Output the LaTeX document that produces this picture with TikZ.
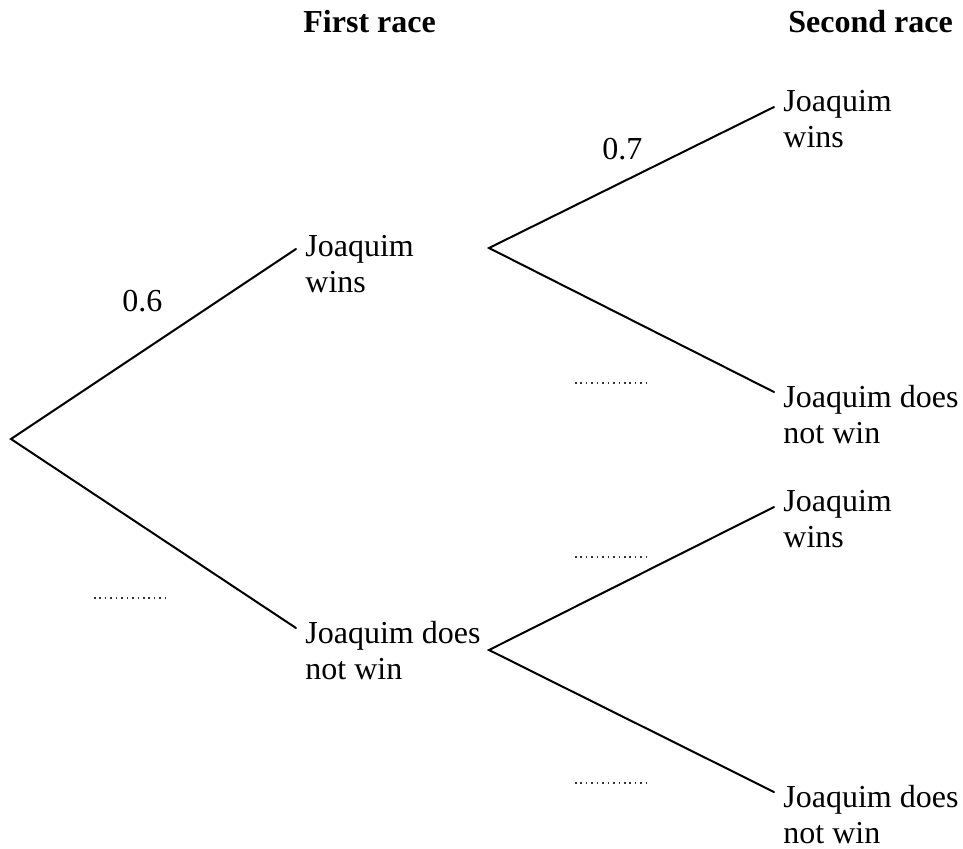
\documentclass[tikz,border=0pt]{standalone}
\usepackage{fontspec}
\setmainfont{Liberation Serif}
\begin{document}
\begin{tikzpicture}[x=0.5pt,y=-0.5pt,
  branch/.style={line width=1pt,line cap=round},
  lbl/.style={anchor=base west,inner sep=0pt,align=left,font=\fontsize{16pt}{18pt}\selectfont},
  head/.style={anchor=base west,inner sep=0pt,font=\fontsize{16pt}{18pt}\selectfont\bfseries},
  blank/.style={line width=0.8pt,dash pattern=on 0.8pt off 1.92pt,black!80}]
\useasboundingbox (0,0) rectangle (963,848);
% headers
\node[head] (h1) at (303,32) {First race};
\node[head] (h2) at (788,32) {Second race};
% tree points
\coordinate (root) at (11,439);
\coordinate (aE) at (296,249);
\coordinate (bE) at (296,628);
\coordinate (aF) at (489,248);
\coordinate (bF) at (489,650);
\coordinate (cE) at (774,107);
\coordinate (dE) at (774,392);
\coordinate (eE) at (774,507);
\coordinate (fE) at (774,792);
% labels (base anchor = baseline of last line)
\node[lbl] (A) at (305,292) {Joaquim\\wins};
\node[lbl] (B) at (305,679) {Joaquim does\\not win};
\node[lbl] (C) at (783,147) {Joaquim\\wins};
\node[lbl] (D) at (783,443) {Joaquim does\\not win};
\node[lbl] (E) at (783,547) {Joaquim\\wins};
\node[lbl] (F) at (783,843) {Joaquim does\\not win};
% branches
\draw[branch] (aE) -- (root) -- (bE);
\draw[branch] (cE) -- (aF) -- (dE);
\draw[branch] (eE) -- (bF) -- (fE);
% probabilities
\node[lbl] (p1) at (122,311) {0.6};
\node[lbl] (p2) at (602,159) {0.7};
% blanks
\coordinate (q1s) at (94,598);  \coordinate (q1e) at (169,598);
\coordinate (q2s) at (575,383); \coordinate (q2e) at (650,383);
\coordinate (q3s) at (575,557); \coordinate (q3e) at (650,557);
\coordinate (q4s) at (575,783); \coordinate (q4e) at (650,783);
\draw[blank] (q1s) -- (q1e);
\draw[blank] (q2s) -- (q2e);
\draw[blank] (q3s) -- (q3e);
\draw[blank] (q4s) -- (q4e);
\end{tikzpicture}
\end{document}
